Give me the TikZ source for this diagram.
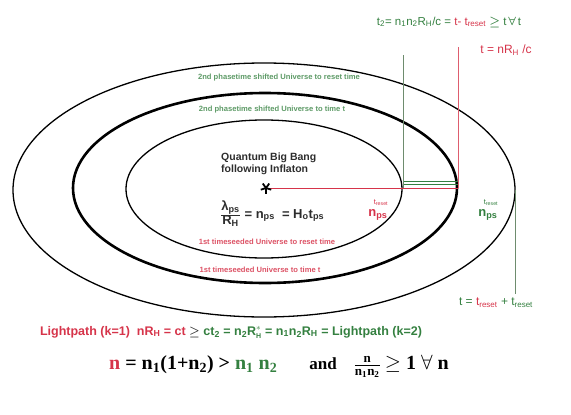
\documentclass[tikz,border=0pt]{standalone}
\usepackage{amsmath,bm}
\usepackage{fontspec}
\setmainfont{Liberation Serif}
\setsansfont{Liberation Sans}
\usetikzlibrary{positioning}
\definecolor{SeedRed}{RGB}{214,52,74}
\definecolor{PhaseGreen}{RGB}{52,128,64}
\definecolor{RuleGreen}{RGB}{110,140,110}
\definecolor{InkGray}{RGB}{45,45,45}
\newcommand{\treset}{t\textsubscript{reset}}
\newcommand{\RH}{R\textsubscript{H}}

\begin{document}
\begin{tikzpicture}[x=1pt,y=-1pt,
    shell/.style={draw=black,line width=1.3pt},
    tag/.style={font=\sffamily\bfseries\fontsize{7.6}{8}\selectfont,inner sep=0pt},
    lbl/.style={font=\sffamily\fontsize{11}{13}\selectfont,inner sep=0pt},
    small/.style={font=\sffamily\fontsize{7.5}{8}\selectfont,inner sep=0pt}]
  \useasboundingbox (0,0) rectangle (571,415);
  \draw[shell] (264,190) ellipse [x radius=251,y radius=127];
  \draw[shell,line width=2.6pt] (265,188) ellipse [x radius=192,y radius=95];
  \draw[shell] (264,189) ellipse [x radius=138,y radius=69];
  \coordinate (bang) at (266,188);
  \coordinate (inR) at (403,188);
  \coordinate (midR) at (458,188);
  \coordinate (outR) at (515,190);
  \coordinate (greenTop) at (403,55);
  \coordinate (redTop) at (458,47);
  \coordinate (outBot) at (515,294);
  \draw[SeedRed,line width=1pt] (bang) -- (midR);
  \draw[PhaseGreen,line width=1.2pt] ([yshift=3.5pt]inR) -- ([yshift=3.5pt]midR);
  \draw[PhaseGreen,line width=1.2pt] ([yshift=6.2pt]inR) -- ([yshift=6.2pt]midR);
  \draw[RuleGreen,line width=0.8pt] (inR) -- (greenTop);
  \draw[SeedRed!80,line width=0.8pt] (midR) -- (redTop);
  \draw[RuleGreen,line width=0.8pt] (outR) -- (outBot);
  \foreach \a in {90,162,234,306,18}
    \draw[black,line width=1.8pt] (bang) -- ++(\a:5.5);
  \node[lbl,font=\sffamily\bfseries\fontsize{10.5}{12.5}\selectfont,text=InkGray,align=left,anchor=west]
    (qbb) at (221,164) {Quantum Big Bang\\following Inflaton};
  \node[lbl,font=\sffamily\bfseries\fontsize{13}{15}\selectfont,text=InkGray,anchor=west] (ratio) at (220,214)
    {$\frac{\mbox{λ\textsubscript{ps}}}{\mbox{\RH}}$\ = n\textsubscript{ps}\ \ = H\textsubscript{o}t\textsubscript{ps}};
  \node[small,text=SeedRed] (redT) at (381,203) {\treset};
  \node[lbl,font=\sffamily\bfseries\fontsize{13}{13}\selectfont,text=SeedRed] (redN) at (378,215) {n\textsubscript{ps}};
  \node[small,text=PhaseGreen] (grnT) at (491,203) {\treset};
  \node[lbl,font=\sffamily\bfseries\fontsize{13}{13}\selectfont,text=PhaseGreen] (grnN) at (488,215) {n\textsubscript{ps}};
  \node[tag,text=PhaseGreen!80] (ph2reset) at (279,78) {2nd phasetime shifted Universe to reset time};
  \node[tag,text=PhaseGreen!80] (ph2t) at (272,110) {2nd phasetime shifted Universe to time t};
  \node[tag,text=SeedRed!85] (ts1reset) at (267,242) {1st timeseeded Universe to reset time};
  \node[tag,text=SeedRed!85] (ts1t) at (260,270) {1st timeseeded Universe to time t};
  \node[lbl,font=\sffamily\fontsize{11.5}{13}\selectfont,text=PhaseGreen] (t2eq) at (449,22)
    {t\textsubscript{2}= n\textsubscript{1}n\textsubscript{2}\RH/c = \textcolor{SeedRed}{t- \treset} $\bm{\geq}$ t\,$\bm{\forall}$\,t};
  \node[lbl,font=\sffamily\fontsize{12}{13}\selectfont,text=SeedRed] (teq) at (506,50) {t = n\RH\ /c};
  \node[lbl,font=\sffamily\fontsize{12}{13}\selectfont,text=PhaseGreen] (tsum) at (496,303)
    {t = \textcolor{SeedRed}{\treset} + \treset};
  \node[lbl,font=\sffamily\bfseries\fontsize{12.5}{14}\selectfont,text=PhaseGreen] (light) at (231,332)
    {\textcolor{SeedRed}{Lightpath (k=1)\ \ n\RH\ = ct}\ \textcolor{InkGray}{$\bm{\geq}$}
     ct\textsubscript{2} = n\textsubscript{2}R$^{*}_{\mbox{\fontsize{7}{8}\selectfont H}}$ =\ n\textsubscript{1}n\textsubscript{2}\RH\ = Lightpath (k=2)};
  \node[font=\bfseries\fontsize{20}{22}\selectfont,inner sep=0pt] (law) at (279,366)
    {\textcolor{SeedRed}{n} = n\textsubscript{1}(1+n\textsubscript{2}) > \textcolor{PhaseGreen}{n\textsubscript{1} n\textsubscript{2}}\hspace{1.6em}\fontsize{17}{20}\selectfont and\hspace{1em}$\frac{\mbox{\fontsize{13}{14}\selectfont n}}{\mbox{\fontsize{13}{14}\selectfont n\textsubscript{1}n\textsubscript{2}}}$ \fontsize{20}{22}\selectfont$\geq$ 1 $\forall$ n};
\end{tikzpicture}
\end{document}
